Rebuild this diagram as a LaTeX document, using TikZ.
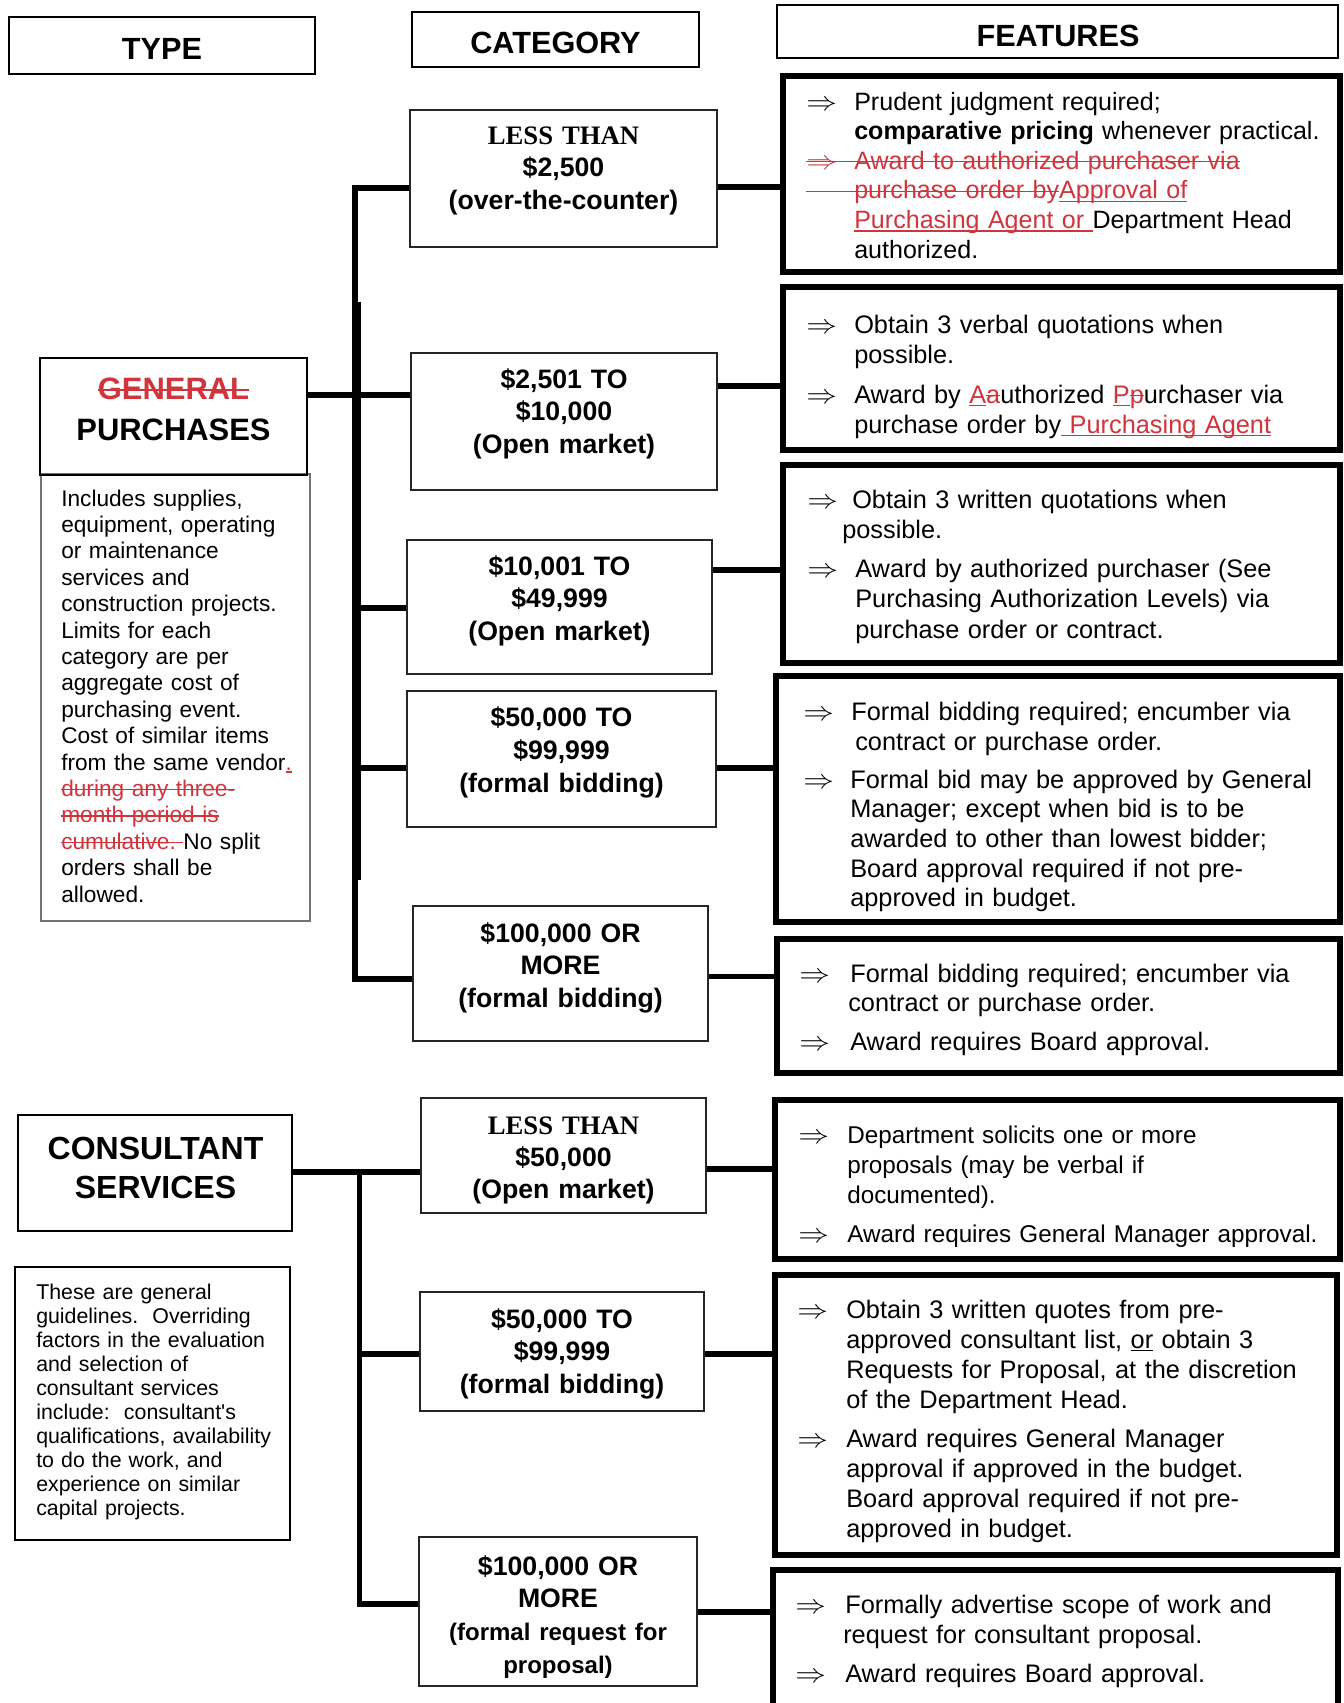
\documentclass[tikz,border=0pt]{standalone}
\usepackage{fontspec}
\usepackage{graphicx}
\setmainfont{Liberation Sans}
\newfontfamily\serifb{Liberation Serif}
\usetikzlibrary{fit}
\definecolor{rd}{RGB}{208,52,60}
\newsavebox\ulbox
\newcommand{\mysout}[1]{\sbox\ulbox{#1}\rlap{\usebox\ulbox}\rule[0.27em]{\wd\ulbox}{1.1pt}}
\newcommand{\myuline}[1]{\sbox\ulbox{#1}\rlap{\usebox\ulbox}\rule[-0.13em]{\wd\ulbox}{1.1pt}}
\newcommand{\farr}[1][36pt]{\makebox[#1][l]{\scalebox{2.3}[2.0]{\fontsize{10}{12}\selectfont$\Rightarrow$}}}
\newcommand{\myind}[1][36pt]{\hspace*{#1}}
\begin{document}
\begin{tikzpicture}[x=0.75pt,y=-0.75pt,
  featbox/.style={draw, line width=4.5pt, inner sep=0pt},
  catbox/.style={draw=black!85, line width=1.5pt, inner sep=0pt},
  hdrbox/.style={draw, line width=1.9pt, inner sep=0pt},
  descbox/.style={draw=black!55, line width=1pt, inner sep=0pt},
  conn/.style={line width=3.8pt},
  hdrtxt/.style={anchor=base, inner sep=0pt, font=\bfseries\fontsize{23}{27}\selectfont},
  ftxt/.style={anchor=base west, inner sep=0pt, text width=400pt, align=left, font=\fontsize{19}{22.5}\selectfont},
  ctxt/.style={anchor=base, inner sep=0pt, text width=300pt, align=center, font=\bfseries\fontsize{20}{24.4}\selectfont},
]
\useasboundingbox (0,0) rectangle (1343,1703);
\fill[white] (0,0) rectangle (1343,1703);

% ---------- headers ----------
\node[hdrbox, fit={(9,17) (315,74)}] (htype) {};
\node[hdrtxt] (ttype) at (162,59) {TYPE};
\node[hdrbox, fit={(412,12) (699,67)}] (hcat) {};
\node[hdrtxt] (tcat) at (555.5,53) {CATEGORY};
\node[hdrbox, fit={(777,5) (1338,58)}] (hfeat) {};
\node[hdrtxt] (tfeat) at (1058,46) {FEATURES};

% ---------- type boxes ----------
\node[descbox, fit={(41,474) (310,921)}] (gpd) {};
\node[catbox, draw=black, fit={(40,358) (307,475)}] (gpt) {};
\node[hdrtxt, font=\bfseries\fontsize{23.2}{28}\selectfont] (gpg) at (173.5,399) {\textcolor{rd}{\mysout{GENERAL}}};
\node[hdrtxt, font=\bfseries\fontsize{23.2}{28}\selectfont] (gpp) at (173.5,440) {PURCHASES};
\node[anchor=base west, inner sep=0pt, text width=190pt, align=left, font=\fontsize{17}{19.8}\selectfont] (gpdt) at (61,506) {Includes supplies,\\
equipment, operating\\
or maintenance\\
services and\\
construction projects.\\
Limits for each\\
category are per\\
aggregate cost of\\
purchasing event.\\
Cost of similar items\\
from the same vendor\textcolor{rd}{\myuline{.}}\\
\textcolor{rd}{\mysout{during any three-}}\\
\textcolor{rd}{\mysout{month period is}}\\
\textcolor{rd}{\mysout{cumulative.\ }}No split\\
orders shall be\\
allowed.};

\node[catbox, draw=black, fit={(18,1115) (292,1231)}] (cst) {};
\node[hdrtxt, font=\bfseries\fontsize{24}{28}\selectfont] (cst1) at (155.5,1159) {CONSULTANT};
\node[hdrtxt, font=\bfseries\fontsize{24}{28}\selectfont] (cst2) at (155.5,1198) {SERVICES};
\node[catbox, draw=black, fit={(15,1267) (290,1540)}] (csd) {};
\node[anchor=base west, inner sep=0pt, text width=190pt, align=left, font=\fontsize{16}{18}\selectfont] (csdt) at (36,1299) {These are general\\
guidelines.\ \ Overriding\\
factors in the evaluation\\
and selection of\\
consultant services\\
include:\ \ consultant\textquotesingle s\\
qualifications, availability\\
to do the work, and\\
experience on similar\\
capital projects.};

% ---------- category boxes ----------
\node[catbox, fit={(410,110) (717,247)}] (cb1) {};
\node[ctxt] (cb1t) at (563.5,144) {{\serifb LESS THAN}\\\$2,500\\(over-the-counter)};
\node[catbox, fit={(411,353) (717,490)}] (cb2) {};
\node[ctxt] (cb2t) at (564,388) {\$2,501 TO\\\$10,000\\(Open market)};
\node[catbox, fit={(407,540) (712,674)}] (cb3) {};
\node[ctxt] (cb3t) at (559.5,575) {\$10,001 TO\\\$49,999\\(Open market)};
\node[catbox, fit={(407,691) (716,827)}] (cb4) {};
\node[ctxt, font=\bfseries\fontsize{20}{24.8}\selectfont] (cb4t) at (561.5,726) {\$50,000 TO\\\$99,999\\(formal bidding)};
\node[catbox, fit={(413,906) (708,1041)}] (cb5) {};
\node[ctxt] (cb5t) at (560.5,942) {\$100,000 OR\\MORE\\(formal bidding)};

\node[catbox, fit={(421,1098) (706,1213)}] (cc1) {};
\node[ctxt, font=\bfseries\fontsize{20}{24}\selectfont] (cc1t) at (563.5,1134) {{\serifb LESS THAN}\\\$50,000\\(Open market)};
\node[catbox, fit={(420,1292) (704,1411)}] (cc2) {};
\node[ctxt] (cc2t) at (562,1328) {\$50,000 TO\\\$99,999\\(formal bidding)};
\node[catbox, fit={(419,1537) (697,1686)}] (cc3) {};
\node[ctxt, font=\bfseries\fontsize{20}{24.6}\selectfont] (cc3t) at (558,1575) {\$100,000 OR\\MORE\\{\fontsize{18}{24.6}\selectfont (formal request for}\\{\fontsize{18}{24.6}\selectfont proposal)}};

% ---------- feature boxes ----------
\node[featbox, fit={(783,75.5) (1339.5,272)}] (f1) {};
\node[ftxt, font=\fontsize{18.8}{22.2}\selectfont] (f1t) at (806,110) {\farr Prudent judgment required;\\
\myind\textbf{comparative pricing} whenever practical.\\
\textcolor{rd}{\mysout{\farr Award to authorized purchaser via}}\\
\textcolor{rd}{\mysout{\makebox[36pt]{}purchase order by}\myuline{Approval of}}\\
\myind\textcolor{rd}{\myuline{Purchasing Agent or\ }}Department Head\\
\myind authorized.};

\node[featbox, fit={(783,287) (1339.5,449.5)}] (f2) {};
\node[ftxt] (f2a) at (806,333) {\farr Obtain 3 verbal quotations when\\\myind possible.};
\node[ftxt] (f2b) at (806,403) {\farr Award by \textcolor{rd}{\myuline{A}\mysout{a}}uthorized \textcolor{rd}{\myuline{P}\mysout{p}}urchaser via\\\myind purchase order by\textcolor{rd}{\myuline{\ Purchasing Agent}}};

\node[featbox, fit={(783,465) (1339.5,662.5)}] (f3) {};
\node[ftxt] (f3a) at (807,508) {\farr[33.75pt]Obtain 3 written quotations when\\\myind[26.25pt]possible.};
\node[ftxt, font=\fontsize{19}{23.2}\selectfont] (f3b) at (807,577) {\farr Award by authorized purchaser (See\\\myind Purchasing Authorization Levels) via\\\myind purchase order or contract.};

\node[featbox, fit={(776,676) (1339.5,922)}] (f4) {};
\node[ftxt] (f4a) at (803,720) {\farr Formal bidding required; encumber via\\\myind[39pt]contract or purchase order.};
\node[ftxt, font=\fontsize{19}{22.3}\selectfont] (f4b) at (803,788) {\farr[35.25pt]Formal bid may be approved by General\\
\myind[35.25pt]Manager; except when bid is to be\\
\myind[35.25pt]awarded to other than lowest bidder;\\
\myind[35.25pt]Board approval required if not pre-\\
\myind[35.25pt]approved in budget.};

\node[featbox, fit={(777,938.5) (1339.5,1073)}] (f5) {};
\node[ftxt, font=\fontsize{19}{21.75}\selectfont] (f5a) at (799,982) {\farr[38.25pt]Formal bidding required; encumber via\\\myind[36.75pt]contract or purchase order.};
\node[ftxt] (f5b) at (799,1050) {\farr[38.25pt]Award requires Board approval.};

\node[featbox, fit={(775,1100) (1339.5,1258.5)}] (c1) {};
\node[ftxt, font=\fontsize{18.2}{22.5}\selectfont] (c1a) at (798,1143) {\farr[36.75pt]Department solicits one or more\\\myind[36.75pt]proposals (may be verbal if\\\myind[36.75pt]documented).};
\node[ftxt, font=\fontsize{18.2}{22.5}\selectfont] (c1b) at (798,1242) {\farr[36.75pt]Award requires General Manager approval.};

\node[featbox, fit={(775,1275) (1336.5,1555)}] (c2) {};
\node[ftxt] (c2a) at (797,1318) {\farr[36.75pt]Obtain 3 written quotes from pre-\\
\myind[36.75pt]approved consultant list, \myuline{or} obtain 3\\
\myind[36.75pt]Requests for Proposal, at the discretion\\
\myind[36.75pt]of the Department Head.};
\node[ftxt] (c2b) at (797,1447) {\farr[36.75pt]Award requires General Manager\\
\myind[36.75pt]approval if approved in the budget.\\
\myind[36.75pt]Board approval required if not pre-\\
\myind[36.75pt]approved in budget.};

\node[featbox, fit={(773,1570) (1337.5,1720)}] (c3) {};
\node[ftxt] (c3a) at (795,1613) {\farr[37.5pt]Formally advertise scope of work and\\\myind[36pt]request for consultant proposal.};
\node[ftxt] (c3b) at (795,1682) {\farr[37.5pt]Award requires Board approval.};

% ---------- connectors: general purchases ----------
\coordinate (tA) at (355,188);
\coordinate (tB) at (355,979);
\coordinate (tC) at (355,608);
\coordinate (tD) at (355,768);
\coordinate (tE) at (359.5,302);
\coordinate (tF) at (359.5,880);
\coordinate (gA) at (330,395);
\draw[conn] (cb1.west |- tA) -- (tA) -- (tB) -- (cb5.west |- tB);
\draw[line width=2.2pt] (tE) -- (tF);
\draw[conn] (gpt.east |- gA) -- (cb2.west |- gA);
\draw[conn] (tC) -- (cb3.west |- tC);
\draw[conn] (tD) -- (cb4.west |- tD);

\coordinate (r1) at (750,187);
\coordinate (r2) at (750,386);
\coordinate (r3) at (750,570);
\coordinate (r4) at (750,768);
\coordinate (r5) at (750,976.5);
\draw[conn] (cb1.east |- r1) -- (f1.west |- r1);
\draw[conn] (cb2.east |- r2) -- (f2.west |- r2);
\draw[conn] (cb3.east |- r3) -- (f3.west |- r3);
\draw[conn] (cb4.east |- r4) -- (f4.west |- r4);
\draw[conn] (cb5.east |- r5) -- (f5.west |- r5);

% ---------- connectors: consultant services ----------
\coordinate (sA) at (359.5,1172);
\coordinate (sB) at (359.5,1604);
\coordinate (sC) at (359.5,1354);
\draw[conn] (cst.east |- sA) -- (cc1.west |- sA);
\draw[conn] (sA) -- (sB) -- (cc3.west |- sB);
\draw[conn] (sC) -- (cc2.west |- sC);

\coordinate (q1) at (740,1169);
\coordinate (q2) at (740,1354);
\coordinate (q3) at (740,1612);
\draw[conn] (cc1.east |- q1) -- (c1.west |- q1);
\draw[conn] (cc2.east |- q2) -- (c2.west |- q2);
\draw[conn] (cc3.east |- q3) -- (c3.west |- q3);
\end{tikzpicture}
\end{document}
